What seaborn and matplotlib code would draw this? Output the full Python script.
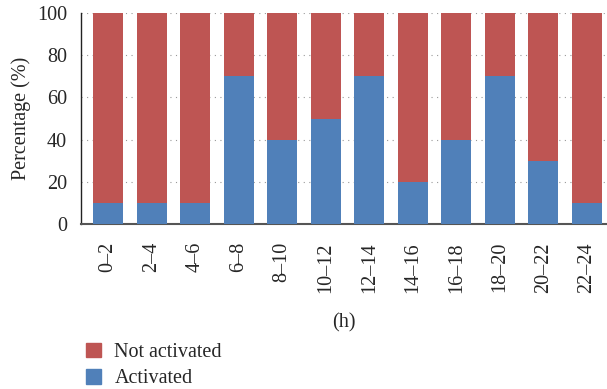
import matplotlib
matplotlib.use("Agg")
import matplotlib.pyplot as plt
import seaborn as sns
import pandas as pd
from matplotlib.patches import Patch

categories = ["0–2", "2–4", "4–6", "6–8", "8–10", "10–12", "12–14",
              "14–16", "16–18", "18–20", "20–22", "22–24"]
activated = [10, 10, 10, 70, 40, 50, 70, 20, 40, 70, 30, 10]
not_activated = [100 - a for a in activated]

sns.set_theme(style="white")
plt.rcParams['font.family'] = ['Liberation Serif', 'DejaVu Serif']

df = pd.DataFrame({"period": categories,
                   "activated": activated,
                   "total": [a + n for a, n in zip(activated, not_activated)]})

RED = "#BE5553"
BLUE = "#5080B9"

fig = plt.figure(figsize=(6.07, 3.89), dpi=100)
ax = fig.add_axes([81/607, 1 - 224/389, 1 - 81/607, (224 - 13)/389])

sns.barplot(data=df, x="period", y="total", color=RED, saturation=1,
            width=0.69, ax=ax, zorder=2, linewidth=0, edgecolor="none")
sns.barplot(data=df, x="period", y="activated", color=BLUE, saturation=1,
            width=0.69, ax=ax, zorder=3, linewidth=0, edgecolor="none")

ax.set_xlim(-0.62, 11.46)
ax.set_ylim(0, 100)
ax.set_yticks([0, 20, 40, 60, 80, 100])
ax.yaxis.grid(True, linestyle=(0, (1, 4)), color="#999999", linewidth=0.8, zorder=0)
ax.set_axisbelow(True)

ax.set_xticks(range(len(categories)))
ax.set_xticklabels(categories, rotation=90, fontsize=14.5)
ax.set_xticks([i - 0.5 for i in range(len(categories))], minor=True)
ax.tick_params(axis="x", which="major", length=0, pad=13)
ax.tick_params(axis="x", which="minor", length=5, width=1.2, color="#444444", direction="out")
ax.tick_params(axis="y", length=4, width=1, color="#333333", labelsize=14.5, pad=6, direction="out")

for s in ["top", "right"]:
    ax.spines[s].set_visible(False)
ax.spines["left"].set_color("#222222")
ax.spines["left"].set_linewidth(1.0)
ax.spines["bottom"].set_color("#555555")
ax.spines["bottom"].set_linewidth(1.5)

ax.set_ylabel("Percentage (%)", fontsize=14.5, labelpad=4)
ax.set_xlabel("(h)", fontsize=14.5, labelpad=15)

handles = [Patch(color=RED, label="Not activated"),
           Patch(color=BLUE, label="Activated")]
fig.legend(handles=handles, loc="lower left", bbox_to_anchor=(0.112, -0.045),
           frameon=False, fontsize=14.5, handlelength=0.75, handleheight=0.75,
           handletextpad=0.65, labelspacing=0.35)

fig.savefig("out.png", dpi=100)
